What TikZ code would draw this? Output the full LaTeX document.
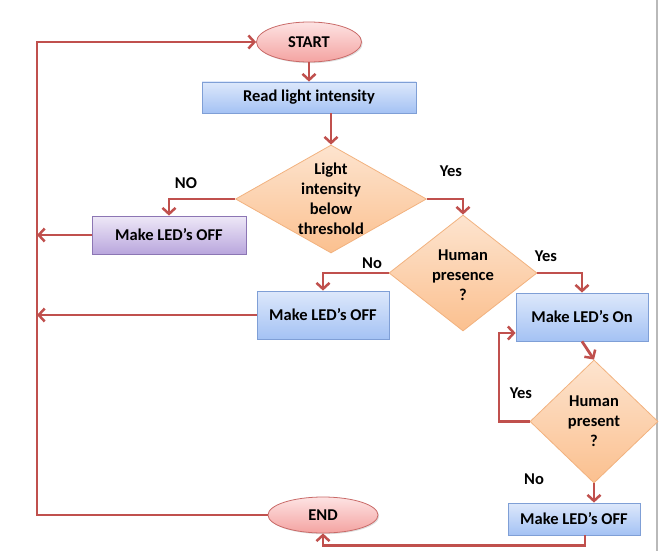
\documentclass[tikz,border=0pt]{standalone}
\usepackage{fontspec}
\setmainfont{Carlito}
\usetikzlibrary{shapes.geometric,arrows.meta,shadows}
\definecolor{arrc}{HTML}{C0504D}
\definecolor{bluetop}{HTML}{DDE8FB}
\definecolor{bluebot}{HTML}{A4C2F4}
\definecolor{blueedge}{HTML}{7F9FD6}
\definecolor{purptop}{HTML}{EEE8F7}
\definecolor{purpbot}{HTML}{B9A6DD}
\definecolor{purpedge}{HTML}{8C76B4}
\definecolor{pinktop}{HTML}{FDE3E3}
\definecolor{pinkbot}{HTML}{F4A3A1}
\definecolor{pinkedge}{HTML}{C96A68}
\definecolor{orgtop}{HTML}{FDE4CF}
\definecolor{orgbot}{HTML}{FBC08F}
\definecolor{orgedge}{HTML}{F2B27F}
\tikzset{
  txt/.style={font=\fontsize{16.5}{20}\selectfont\bfseries, text=black, align=center, inner sep=0pt},
  shad/.style={drop shadow={opacity=0.25, shadow xshift=1.2pt, shadow yshift=-1.2pt}},
  bluebox/.style={rectangle, shad, draw=blueedge, line width=0.8pt, top color=bluetop, bottom color=bluebot, txt},
  purpbox/.style={rectangle, shad, draw=purpedge, line width=0.8pt, top color=purptop, bottom color=purpbot, txt},
  term/.style={ellipse, shad, draw=pinkedge, line width=0.8pt, top color=pinktop, bottom color=pinkbot, txt},
  dec/.style={diamond, draw=orgedge, line width=0.8pt, top color=orgtop, bottom color=orgbot, inner sep=0pt},
  arr/.style={draw=arrc, line width=2.8pt, -{Straight Barb[length=6pt,width=13pt,line width=2.5pt]}},
  lbl/.style={txt}
}
\begin{document}
\begin{tikzpicture}[x=1pt,y=-1pt]
\useasboundingbox (0,0) rectangle (664,551);
\draw[gray!55, line width=1.6pt] (657,0) -- (657,551);

\node[term, minimum width=105pt, minimum height=40pt] (start) at (309,42) {START};
\node[bluebox, minimum width=214pt, minimum height=31pt] (read) at (309,97.5) {Read light intensity};
\node[dec, minimum width=191pt, minimum height=108pt] (d1) at (331,199) {};
\node[txt] (d1t) at (331,199) {Light\\intensity\\below\\threshold};
\node[purpbox, minimum width=154pt, minimum height=38pt] (off1) at (169,235) {Make LED’s OFF};
\node[dec, minimum width=148pt, minimum height=116pt] (d2) at (463,273) {};
\node[txt] (d2t) at (463,275) {Human\\presence\\?};
\node[bluebox, minimum width=132pt, minimum height=48pt] (off2) at (323,315) {Make LED’s OFF};
\node[bluebox, minimum width=132pt, minimum height=48pt] (on) at (582,317) {Make LED’s On};
\node[dec, minimum width=128pt, minimum height=123pt] (d3) at (594,421.5) {};
\node[txt] (d3t) at (594,421) {Human\\present\\?};
\node[bluebox, minimum width=132pt, minimum height=32pt] (off3) at (574,519) {Make LED’s OFF};
\node[term, minimum width=110pt, minimum height=36pt] (end) at (323,515) {END};

\node[lbl] (lno1) at (186,183) {NO};
\node[lbl] (lyes1) at (451,171) {Yes};
\node[lbl] (lno2) at (372,263) {No};
\node[lbl] (lyes2) at (546,256) {Yes};
\node[lbl] (lyes3) at (521,393) {Yes};
\node[lbl] (lno3) at (534,479) {No};

\coordinate (lx) at (37,300);
\coordinate (yl) at (499,333);

\draw[arr] (start) -- (read);
\draw[arr] (read.south -| d1.north) -- (d1.north);
\draw[arr] (d1.west) -| (off1.north);
\draw[arr] (d1.east) -| (d2.north);
\draw[arr] (d2.west) -| (off2.north);
\draw[arr] (d2.east) -| (on.north);
\draw[arr] (on.south) -- (d3.north);
\draw[arr] (d3.west) -| (yl) -- (yl -| on.west);
\draw[arr] (d3.south) -- (d3.south |- off3.north);
\draw[arr] ([xshift=11pt]off3.south) -- ++(0,10) -| (end.south);
\draw[arr] (off1.west) -- (off1.west -| lx);
\draw[arr] (off2.west) -- (off2.west -| lx);
\draw[arr] (end.west) -- (end.west -| lx) -- (start.west -| lx) -- (start.west);
\end{tikzpicture}
\end{document}
